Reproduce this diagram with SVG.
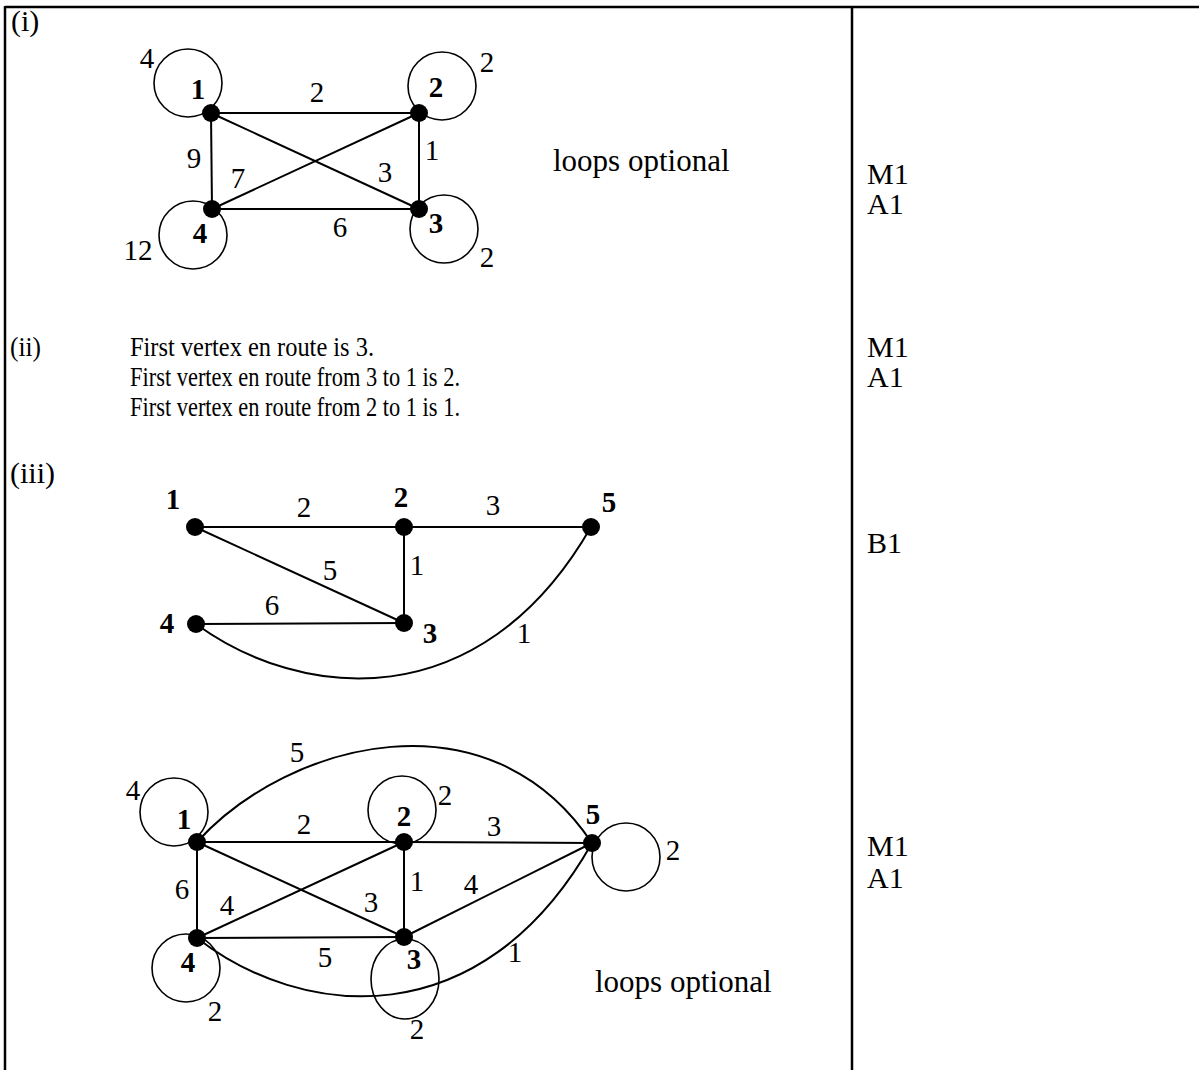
<svg xmlns="http://www.w3.org/2000/svg" width="1199" height="1070" viewBox="0 0 1199 1070">
<style>
text{font-family:"Liberation Serif","Times New Roman",serif;font-size:29px;fill:#000}
.b{font-weight:bold}
.m{text-anchor:middle}
.k{font-size:30px}
.r{font-size:27px}
.o{font-size:31px}
.e{stroke:#000;stroke-width:2;fill:none}
.l{stroke:#000;stroke-width:1.6;fill:none}
.t{stroke:#000;stroke-width:2.5;fill:none}
.n{fill:#000}
</style>
<g id="table">
<line class="t" x1="5" y1="7" x2="1199" y2="7"/>
<line class="t" x1="5" y1="6" x2="5" y2="1070"/>
<line class="t" x1="852" y1="6" x2="852" y2="1070"/>
</g>
<g id="texts">
<text class="k" x="11" y="31">(i)</text>
<text class="o" x="553" y="171">loops optional</text>
<text class="r" x="10" y="356" textLength="31" lengthAdjust="spacingAndGlyphs">(ii)</text>
<text class="r" x="130" y="356" textLength="244" lengthAdjust="spacingAndGlyphs">First vertex en route is 3.</text>
<text class="r" x="130" y="386" textLength="330" lengthAdjust="spacingAndGlyphs">First vertex en route from 3 to 1 is 2.</text>
<text class="r" x="130" y="416" textLength="330" lengthAdjust="spacingAndGlyphs">First vertex en route from 2 to 1 is 1.</text>
<text class="k" x="10" y="483">(iii)</text>
<text class="o" x="595" y="992">loops optional</text>
<text class="k" x="867" y="184">M1</text>
<text class="k" x="867" y="214">A1</text>
<text class="k" x="867" y="357">M1</text>
<text class="k" x="867" y="387">A1</text>
<text class="k" x="867" y="553">B1</text>
<text class="k" x="867" y="856">M1</text>
<text class="k" x="867" y="888">A1</text>
</g>
<g id="graph1-connectors">
<line class="e" x1="211" y1="113" x2="419" y2="113"/>
<line class="e" x1="419" y1="113" x2="419" y2="209"/>
<line class="e" x1="211" y1="113" x2="212" y2="209"/>
<line class="e" x1="212" y1="209" x2="419" y2="209"/>
<line class="e" x1="211" y1="113" x2="419" y2="209"/>
<line class="e" x1="212" y1="209" x2="419" y2="113"/>
<circle class="l" cx="188" cy="83" r="34"/>
<circle class="l" cx="442" cy="86" r="34"/>
<circle class="l" cx="444" cy="229" r="34"/>
<circle class="l" cx="193" cy="235" r="34"/>
<g class="m">
<text x="317" y="102">2</text><text x="194" y="168">9</text><text x="238" y="188">7</text>
<text x="385" y="182">3</text><text x="432" y="160">1</text><text x="340" y="237">6</text>
<text x="147" y="68">4</text><text x="487" y="72">2</text><text x="138" y="260">12</text><text x="487" y="267">2</text>
</g>
</g>
<g id="g1n1"><circle class="n" cx="211" cy="113" r="9"/><text class="b m" x="198" y="99">1</text></g>
<g id="g1n2"><circle class="n" cx="419" cy="113" r="9"/><text class="b m" x="436" y="97">2</text></g>
<g id="g1n3"><circle class="n" cx="419" cy="209" r="9"/><text class="b m" x="436" y="233">3</text></g>
<g id="g1n4"><circle class="n" cx="212" cy="209" r="9"/><text class="b m" x="200" y="243">4</text></g>

<g id="graph2-connectors">
<line class="e" x1="195" y1="527" x2="404" y2="527"/>
<line class="e" x1="404" y1="527" x2="591" y2="527"/>
<line class="e" x1="404" y1="527" x2="404" y2="623"/>
<line class="e" x1="195" y1="527" x2="404" y2="623"/>
<line class="e" x1="196" y1="624" x2="404" y2="623"/>
<path class="e" d="M196,624 C300,700 480,720 591,527"/>
<g class="m">
<text x="304" y="517">2</text><text x="493" y="515">3</text><text x="330" y="580">5</text>
<text x="417" y="575">1</text><text x="272" y="615">6</text><text x="524" y="643">1</text>
</g>
</g>
<g id="g2n1"><circle class="n" cx="195" cy="527" r="9"/><text class="b m" x="173" y="509">1</text></g>
<g id="g2n2"><circle class="n" cx="404" cy="527" r="9"/><text class="b m" x="401" y="507">2</text></g>
<g id="g2n3"><circle class="n" cx="404" cy="623" r="9"/><text class="b m" x="430" y="643">3</text></g>
<g id="g2n4"><circle class="n" cx="196" cy="624" r="9"/><text class="b m" x="167" y="633">4</text></g>
<g id="g2n5"><circle class="n" cx="591" cy="527" r="9"/><text class="b m" x="609" y="512">5</text></g>

<g id="graph3-connectors">
<line class="e" x1="197" y1="842" x2="404" y2="842"/>
<line class="e" x1="404" y1="842" x2="592" y2="843"/>
<line class="e" x1="197" y1="842" x2="197" y2="938"/>
<line class="e" x1="404" y1="842" x2="404" y2="937"/>
<line class="e" x1="197" y1="938" x2="404" y2="937"/>
<line class="e" x1="197" y1="842" x2="404" y2="937"/>
<line class="e" x1="197" y1="938" x2="404" y2="842"/>
<line class="e" x1="404" y1="937" x2="592" y2="843"/>
<path class="e" d="M197,842 C290,740 490,690 592,843"/>
<path class="e" d="M197,938 C301,1019 481,1039 592,843"/>
<circle class="l" cx="174" cy="812" r="34"/>
<circle class="l" cx="402" cy="810" r="34"/>
<circle class="l" cx="626" cy="857" r="34"/>
<circle class="l" cx="186" cy="968" r="34"/>
<ellipse class="l" cx="405" cy="979" rx="34" ry="40"/>
<g class="m">
<text x="297" y="762">5</text><text x="133" y="800">4</text><text x="304" y="834">2</text>
<text x="445" y="805">2</text><text x="494" y="836">3</text><text x="673" y="860">2</text>
<text x="182" y="899">6</text><text x="227" y="915">4</text><text x="371" y="912">3</text>
<text x="417" y="891">1</text><text x="471" y="894">4</text><text x="325" y="967">5</text>
<text x="515" y="962">1</text><text x="215" y="1021">2</text><text x="417" y="1039">2</text>
</g>
</g>
<g id="g3n1"><circle class="n" cx="197" cy="842" r="9"/><text class="b m" x="184" y="829">1</text></g>
<g id="g3n2"><circle class="n" cx="404" cy="842" r="9"/><text class="b m" x="404" y="826">2</text></g>
<g id="g3n3"><circle class="n" cx="404" cy="937" r="9"/><text class="b m" x="414" y="969">3</text></g>
<g id="g3n4"><circle class="n" cx="197" cy="938" r="9"/><text class="b m" x="188" y="972">4</text></g>
<g id="g3n5"><circle class="n" cx="592" cy="843" r="9"/><text class="b m" x="593" y="824">5</text></g>
</svg>
